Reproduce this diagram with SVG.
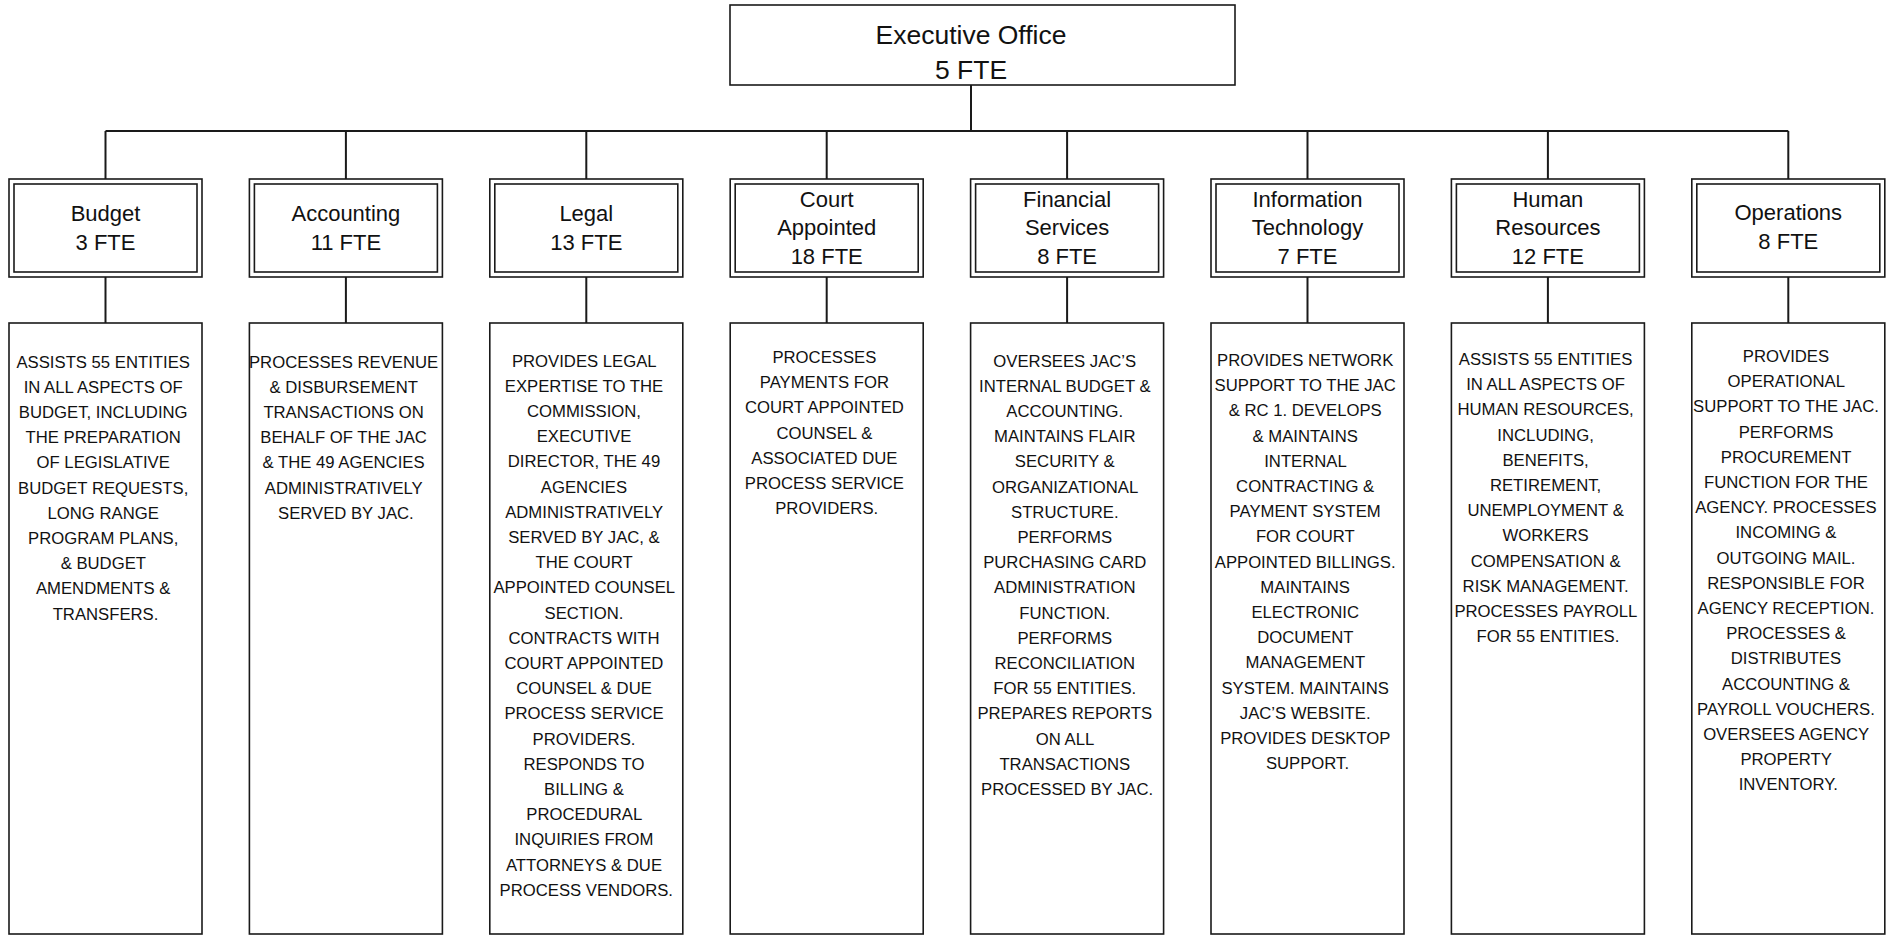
<svg xmlns="http://www.w3.org/2000/svg" width="1894" height="937" viewBox="0 0 1894 937">
  <style>
    .bg { fill: #ffffff; }
    .box { fill: #ffffff; stroke: #1a1a1a; stroke-width: 1.6; }
    .inner { fill: none; stroke: #1a1a1a; stroke-width: 1.6; }
    .wire { fill: none; stroke: #1a1a1a; stroke-width: 2; }
    .head { font-family: "Liberation Sans", Arial, sans-serif; font-size: 26.5px; fill: #111; text-anchor: middle; }
    .title { font-family: "Liberation Sans", Arial, sans-serif; font-size: 22px; fill: #111; text-anchor: middle; }
    .desc { font-family: "Liberation Sans", Arial, sans-serif; font-size: 16.7px; fill: #111; text-anchor: middle; }
  </style>
  <rect class="bg" x="0" y="0" width="1894" height="937"/>

  <!-- connectors -->
  <g id="connectors">
    <path class="wire" d="M971 85 V131 M105.5 131 H1788.3"/>
    <path class="wire" d="M105.5 131 V179 M345.9 131 V179 M586.3 131 V179 M826.7 131 V179 M1067.1 131 V179 M1307.5 131 V179 M1547.9 131 V179 M1788.3 131 V179"/>
    <path class="wire" d="M105.5 277 V323 M345.9 277 V323 M586.3 277 V323 M826.7 277 V323 M1067.1 277 V323 M1307.5 277 V323 M1547.9 277 V323 M1788.3 277 V323"/>
  </g>

  <!-- top node -->
  <g id="executive-office">
    <rect class="box" x="730" y="5" width="505" height="80"/>
    <text class="head" x="971" y="44">Executive Office</text>
    <text class="head" x="971" y="79">5 FTE</text>
  </g>

  <!-- division nodes -->
  <g id="budget">
    <rect class="box" x="9" y="179" width="193" height="98"/>
    <rect class="inner" x="14" y="184" width="183" height="88"/>
    <text class="title" x="105.5" y="221">Budget</text>
    <text class="title" x="105.5" y="250">3 FTE</text>
  </g>
  <g id="accounting">
    <rect class="box" x="249.4" y="179" width="193" height="98"/>
    <rect class="inner" x="254.4" y="184" width="183" height="88"/>
    <text class="title" x="345.9" y="221">Accounting</text>
    <text class="title" x="345.9" y="250">11 FTE</text>
  </g>
  <g id="legal">
    <rect class="box" x="489.8" y="179" width="193" height="98"/>
    <rect class="inner" x="494.8" y="184" width="183" height="88"/>
    <text class="title" x="586.3" y="221">Legal</text>
    <text class="title" x="586.3" y="250">13 FTE</text>
  </g>
  <g id="court-appointed">
    <rect class="box" x="730.2" y="179" width="193" height="98"/>
    <rect class="inner" x="735.2" y="184" width="183" height="88"/>
    <text class="title" x="826.7" y="206.5">Court</text>
    <text class="title" x="826.7" y="235">Appointed</text>
    <text class="title" x="826.7" y="263.5">18 FTE</text>
  </g>
  <g id="financial-services">
    <rect class="box" x="970.6" y="179" width="193" height="98"/>
    <rect class="inner" x="975.6" y="184" width="183" height="88"/>
    <text class="title" x="1067.1" y="206.5">Financial</text>
    <text class="title" x="1067.1" y="235">Services</text>
    <text class="title" x="1067.1" y="263.5">8 FTE</text>
  </g>
  <g id="information-technology">
    <rect class="box" x="1211" y="179" width="193" height="98"/>
    <rect class="inner" x="1216" y="184" width="183" height="88"/>
    <text class="title" x="1307.5" y="206.5">Information</text>
    <text class="title" x="1307.5" y="235">Technology</text>
    <text class="title" x="1307.5" y="263.5">7 FTE</text>
  </g>
  <g id="human-resources">
    <rect class="box" x="1451.4" y="179" width="193" height="98"/>
    <rect class="inner" x="1456.4" y="184" width="183" height="88"/>
    <text class="title" x="1547.9" y="206.5">Human</text>
    <text class="title" x="1547.9" y="235">Resources</text>
    <text class="title" x="1547.9" y="263.5">12 FTE</text>
  </g>
  <g id="operations">
    <rect class="box" x="1691.8" y="179" width="193" height="98"/>
    <rect class="inner" x="1696.8" y="184" width="183" height="88"/>
    <text class="title" x="1788.3" y="220">Operations</text>
    <text class="title" x="1788.3" y="249">8 FTE</text>
  </g>

  <!-- duty description nodes -->
  <g id="budget-duties">
    <rect class="box" x="9" y="323" width="193" height="611"/>
    <text class="desc" y="367.5">
      <tspan x="105.5">ASSISTS 55 ENTITIES</tspan>
      <tspan x="105.5" dy="25.2">IN ALL ASPECTS OF</tspan>
      <tspan x="105.5" dy="25.2">BUDGET, INCLUDING</tspan>
      <tspan x="105.5" dy="25.2">THE PREPARATION</tspan>
      <tspan x="105.5" dy="25.2">OF LEGISLATIVE</tspan>
      <tspan x="105.5" dy="25.2">BUDGET REQUESTS,</tspan>
      <tspan x="105.5" dy="25.2">LONG RANGE</tspan>
      <tspan x="105.5" dy="25.2">PROGRAM PLANS,</tspan>
      <tspan x="105.5" dy="25.2">&amp; BUDGET</tspan>
      <tspan x="105.5" dy="25.2">AMENDMENTS &amp;</tspan>
      <tspan x="105.5" dy="25.2">TRANSFERS.</tspan>
    </text>
  </g>
  <g id="accounting-duties">
    <rect class="box" x="249.4" y="323" width="193" height="611"/>
    <text class="desc" y="367.5">
      <tspan x="345.9">PROCESSES REVENUE</tspan>
      <tspan x="345.9" dy="25.2">&amp; DISBURSEMENT</tspan>
      <tspan x="345.9" dy="25.2">TRANSACTIONS ON</tspan>
      <tspan x="345.9" dy="25.2">BEHALF OF THE JAC</tspan>
      <tspan x="345.9" dy="25.2">&amp; THE 49 AGENCIES</tspan>
      <tspan x="345.9" dy="25.2">ADMINISTRATIVELY</tspan>
      <tspan x="345.9" dy="25.2">SERVED BY JAC.</tspan>
    </text>
  </g>
  <g id="legal-duties">
    <rect class="box" x="489.8" y="323" width="193" height="611"/>
    <text class="desc" y="366.5">
      <tspan x="586.3">PROVIDES LEGAL</tspan>
      <tspan x="586.3" dy="25.2">EXPERTISE TO THE</tspan>
      <tspan x="586.3" dy="25.2">COMMISSION,</tspan>
      <tspan x="586.3" dy="25.2">EXECUTIVE</tspan>
      <tspan x="586.3" dy="25.2">DIRECTOR, THE 49</tspan>
      <tspan x="586.3" dy="25.2">AGENCIES</tspan>
      <tspan x="586.3" dy="25.2">ADMINISTRATIVELY</tspan>
      <tspan x="586.3" dy="25.2">SERVED BY JAC, &amp;</tspan>
      <tspan x="586.3" dy="25.2">THE COURT</tspan>
      <tspan x="586.3" dy="25.2">APPOINTED COUNSEL</tspan>
      <tspan x="586.3" dy="25.2">SECTION.</tspan>
      <tspan x="586.3" dy="25.2">CONTRACTS WITH</tspan>
      <tspan x="586.3" dy="25.2">COURT APPOINTED</tspan>
      <tspan x="586.3" dy="25.2">COUNSEL &amp; DUE</tspan>
      <tspan x="586.3" dy="25.2">PROCESS SERVICE</tspan>
      <tspan x="586.3" dy="25.2">PROVIDERS.</tspan>
      <tspan x="586.3" dy="25.2">RESPONDS TO</tspan>
      <tspan x="586.3" dy="25.2">BILLING &amp;</tspan>
      <tspan x="586.3" dy="25.2">PROCEDURAL</tspan>
      <tspan x="586.3" dy="25.2">INQUIRIES FROM</tspan>
      <tspan x="586.3" dy="25.2">ATTORNEYS &amp; DUE</tspan>
      <tspan x="586.3" dy="25.2">PROCESS VENDORS.</tspan>
    </text>
  </g>
  <g id="court-appointed-duties">
    <rect class="box" x="730.2" y="323" width="193" height="611"/>
    <text class="desc" y="363">
      <tspan x="826.7">PROCESSES</tspan>
      <tspan x="826.7" dy="25.2">PAYMENTS FOR</tspan>
      <tspan x="826.7" dy="25.2">COURT APPOINTED</tspan>
      <tspan x="826.7" dy="25.2">COUNSEL &amp;</tspan>
      <tspan x="826.7" dy="25.2">ASSOCIATED DUE</tspan>
      <tspan x="826.7" dy="25.2">PROCESS SERVICE</tspan>
      <tspan x="826.7" dy="25.2">PROVIDERS.</tspan>
    </text>
  </g>
  <g id="financial-services-duties">
    <rect class="box" x="970.6" y="323" width="193" height="611"/>
    <text class="desc" y="366.5">
      <tspan x="1067.1">OVERSEES JAC’S</tspan>
      <tspan x="1067.1" dy="25.2">INTERNAL BUDGET &amp;</tspan>
      <tspan x="1067.1" dy="25.2">ACCOUNTING.</tspan>
      <tspan x="1067.1" dy="25.2">MAINTAINS FLAIR</tspan>
      <tspan x="1067.1" dy="25.2">SECURITY &amp;</tspan>
      <tspan x="1067.1" dy="25.2">ORGANIZATIONAL</tspan>
      <tspan x="1067.1" dy="25.2">STRUCTURE.</tspan>
      <tspan x="1067.1" dy="25.2">PERFORMS</tspan>
      <tspan x="1067.1" dy="25.2">PURCHASING CARD</tspan>
      <tspan x="1067.1" dy="25.2">ADMINISTRATION</tspan>
      <tspan x="1067.1" dy="25.2">FUNCTION.</tspan>
      <tspan x="1067.1" dy="25.2">PERFORMS</tspan>
      <tspan x="1067.1" dy="25.2">RECONCILIATION</tspan>
      <tspan x="1067.1" dy="25.2">FOR 55 ENTITIES.</tspan>
      <tspan x="1067.1" dy="25.2">PREPARES REPORTS</tspan>
      <tspan x="1067.1" dy="25.2">ON ALL</tspan>
      <tspan x="1067.1" dy="25.2">TRANSACTIONS</tspan>
      <tspan x="1067.1" dy="25.2">PROCESSED BY JAC.</tspan>
    </text>
  </g>
  <g id="information-technology-duties">
    <rect class="box" x="1211" y="323" width="193" height="611"/>
    <text class="desc" y="366">
      <tspan x="1307.5">PROVIDES NETWORK</tspan>
      <tspan x="1307.5" dy="25.2">SUPPORT TO THE JAC</tspan>
      <tspan x="1307.5" dy="25.2">&amp; RC 1. DEVELOPS</tspan>
      <tspan x="1307.5" dy="25.2">&amp; MAINTAINS</tspan>
      <tspan x="1307.5" dy="25.2">INTERNAL</tspan>
      <tspan x="1307.5" dy="25.2">CONTRACTING &amp;</tspan>
      <tspan x="1307.5" dy="25.2">PAYMENT SYSTEM</tspan>
      <tspan x="1307.5" dy="25.2">FOR COURT</tspan>
      <tspan x="1307.5" dy="25.2">APPOINTED BILLINGS.</tspan>
      <tspan x="1307.5" dy="25.2">MAINTAINS</tspan>
      <tspan x="1307.5" dy="25.2">ELECTRONIC</tspan>
      <tspan x="1307.5" dy="25.2">DOCUMENT</tspan>
      <tspan x="1307.5" dy="25.2">MANAGEMENT</tspan>
      <tspan x="1307.5" dy="25.2">SYSTEM. MAINTAINS</tspan>
      <tspan x="1307.5" dy="25.2">JAC’S WEBSITE.</tspan>
      <tspan x="1307.5" dy="25.2">PROVIDES DESKTOP</tspan>
      <tspan x="1307.5" dy="25.2">SUPPORT.</tspan>
    </text>
  </g>
  <g id="human-resources-duties">
    <rect class="box" x="1451.4" y="323" width="193" height="611"/>
    <text class="desc" y="365">
      <tspan x="1547.9">ASSISTS 55 ENTITIES</tspan>
      <tspan x="1547.9" dy="25.2">IN ALL ASPECTS OF</tspan>
      <tspan x="1547.9" dy="25.2">HUMAN RESOURCES,</tspan>
      <tspan x="1547.9" dy="25.2">INCLUDING,</tspan>
      <tspan x="1547.9" dy="25.2">BENEFITS,</tspan>
      <tspan x="1547.9" dy="25.2">RETIREMENT,</tspan>
      <tspan x="1547.9" dy="25.2">UNEMPLOYMENT &amp;</tspan>
      <tspan x="1547.9" dy="25.2">WORKERS</tspan>
      <tspan x="1547.9" dy="25.2">COMPENSATION &amp;</tspan>
      <tspan x="1547.9" dy="25.2">RISK MANAGEMENT.</tspan>
      <tspan x="1547.9" dy="25.2">PROCESSES PAYROLL</tspan>
      <tspan x="1547.9" dy="25.2">FOR 55 ENTITIES.</tspan>
    </text>
  </g>
  <g id="operations-duties">
    <rect class="box" x="1691.8" y="323" width="193" height="611"/>
    <text class="desc" y="362">
      <tspan x="1788.3">PROVIDES</tspan>
      <tspan x="1788.3" dy="25.2">OPERATIONAL</tspan>
      <tspan x="1788.3" dy="25.2">SUPPORT TO THE JAC.</tspan>
      <tspan x="1788.3" dy="25.2">PERFORMS</tspan>
      <tspan x="1788.3" dy="25.2">PROCUREMENT</tspan>
      <tspan x="1788.3" dy="25.2">FUNCTION FOR THE</tspan>
      <tspan x="1788.3" dy="25.2">AGENCY. PROCESSES</tspan>
      <tspan x="1788.3" dy="25.2">INCOMING &amp;</tspan>
      <tspan x="1788.3" dy="25.2">OUTGOING MAIL.</tspan>
      <tspan x="1788.3" dy="25.2">RESPONSIBLE FOR</tspan>
      <tspan x="1788.3" dy="25.2">AGENCY RECEPTION.</tspan>
      <tspan x="1788.3" dy="25.2">PROCESSES &amp;</tspan>
      <tspan x="1788.3" dy="25.2">DISTRIBUTES</tspan>
      <tspan x="1788.3" dy="25.2">ACCOUNTING &amp;</tspan>
      <tspan x="1788.3" dy="25.2">PAYROLL VOUCHERS.</tspan>
      <tspan x="1788.3" dy="25.2">OVERSEES AGENCY</tspan>
      <tspan x="1788.3" dy="25.2">PROPERTY</tspan>
      <tspan x="1788.3" dy="25.2">INVENTORY.</tspan>
    </text>
  </g>
</svg>
